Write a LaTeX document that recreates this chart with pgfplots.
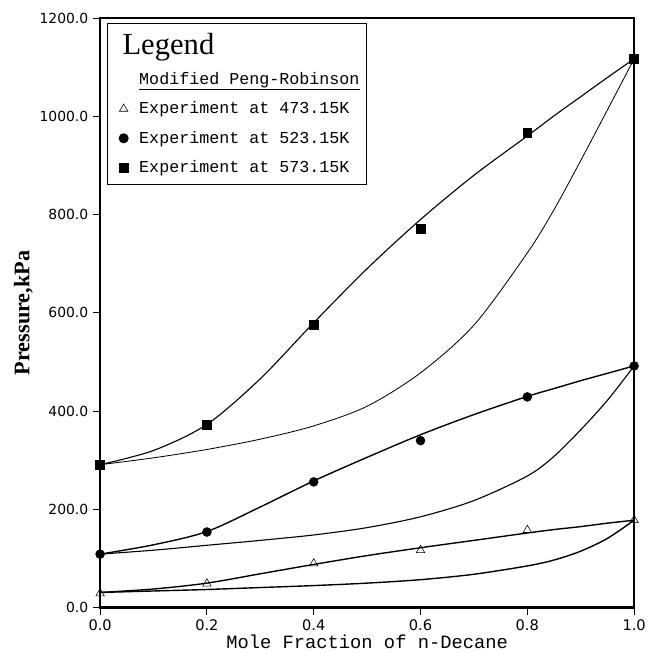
\documentclass[border=0pt]{standalone}
\usepackage{pgfplots}
\pgfplotsset{compat=1.18}
\usepackage{fontspec}
\setmainfont{Liberation Serif}
\newfontfamily\tickfont{DejaVu Sans}
\newfontfamily\monofont{Liberation Mono}

% vapour-liquid curves (bubble / dew) for three temperatures
\pgfplotstableread{
x     b473  d473  b523  d523  b573  d573
0.0   31    31    109   109   291   291
0.1   38    34    128   117   320   305
0.2   50    37    155   127   373   322
0.3   69    41    205   137   466   343
0.4   88    45    258   148   580   370
0.5   106   50    306   163   690   410
0.6   122   57    352   185   790   478
0.7   137   68    393   218   880   575
0.8   152   85    430   268   960   722
0.85  159   97    446   308   1001  810
0.9   165   115   462   362   1040  910
0.95  172   141   477   422   1079  1013
1.0   178   178   492   492   1117  1117
}\curves

\begin{document}
\begin{tikzpicture}
\begin{axis}[
    scale only axis,
    width=384pt, height=424pt,
    xmin=0, xmax=1, ymin=0, ymax=1200,
    xtick={0,0.2,...,1.0}, ytick={0,200,...,1200},
    axis line style={line width=1.8pt},
    tick align=outside, tick pos=left,
    major tick length=5pt,
    tick style={line width=0.8pt, black},
    xticklabel style={font=\tickfont\fontsize{10.5}{12}\selectfont},
    yticklabel style={font=\tickfont\fontsize{10}{12}\selectfont},
    /pgf/number format/assume math mode=true,
    /pgf/number format/.cd, fixed, fixed zerofill, precision=1, 1000 sep={}, /pgfplots/.cd,
    xlabel={Mole Fraction of n-Decane},
    xlabel style={font=\monofont\fontsize{13.5}{14}\selectfont, yshift=4pt},
    ylabel={\textbf{Pressure,kPa}},
    ylabel style={font=\fontsize{16}{17}\selectfont, yshift=-2pt},
    legend cell align=left,
    legend style={at={(rel axis cs:0.013,0.991)}, anchor=north west,
      font=\monofont\fontsize{12}{13}\selectfont, draw=black, line width=0.8pt,
      inner xsep=3pt, inner ysep=5pt, row sep=7pt, column sep=6pt},
  ]
  \addlegendimage{empty legend}
  \addlegendentry{\hspace*{-12pt}\rmfamily\fontsize{22}{23}\selectfont Legend}
  \addlegendimage{empty legend}
  \addlegendentry{\underline{Modified Peng-Robinson}}

  \addplot[only marks, mark=triangle, mark size=3.5pt, thin] coordinates {
    (0,29) (0.2,49) (0.4,90) (0.6,117) (0.8,158) (1.0,178)};
  \addlegendentry{Experiment at 473.15K}
  \addplot[only marks, mark=*, mark size=3.2pt] coordinates {
    (0,109) (0.2,154) (0.4,256) (0.6,340) (0.8,429) (1.0,492)};
  \addlegendentry{Experiment at 523.15K}
  \addplot[only marks, mark=square*, mark size=3.2pt] coordinates {
    (0,291) (0.2,373) (0.4,576) (0.6,772) (0.8,966) (1.0,1117)};
  \addlegendentry{Experiment at 573.15K}

  \addplot[forget plot, smooth, line width=1pt] table[x=x, y=b473] {\curves};
  \addplot[forget plot, smooth, line width=1pt] table[x=x, y=d473] {\curves};
  \addplot[forget plot, smooth, line width=1pt] table[x=x, y=b523] {\curves};
  \addplot[forget plot, smooth, line width=0.8pt] table[x=x, y=d523] {\curves};
  \addplot[forget plot, smooth, line width=0.8pt] table[x=x, y=b573] {\curves};
  \addplot[forget plot, smooth, line width=0.6pt] table[x=x, y=d573] {\curves};
\end{axis}
% blank room above and left of the frame, as in the original
\path ([yshift=13pt]current axis.north west);
\path ([xshift=-72pt]current axis.south west);
\end{tikzpicture}
\end{document}
